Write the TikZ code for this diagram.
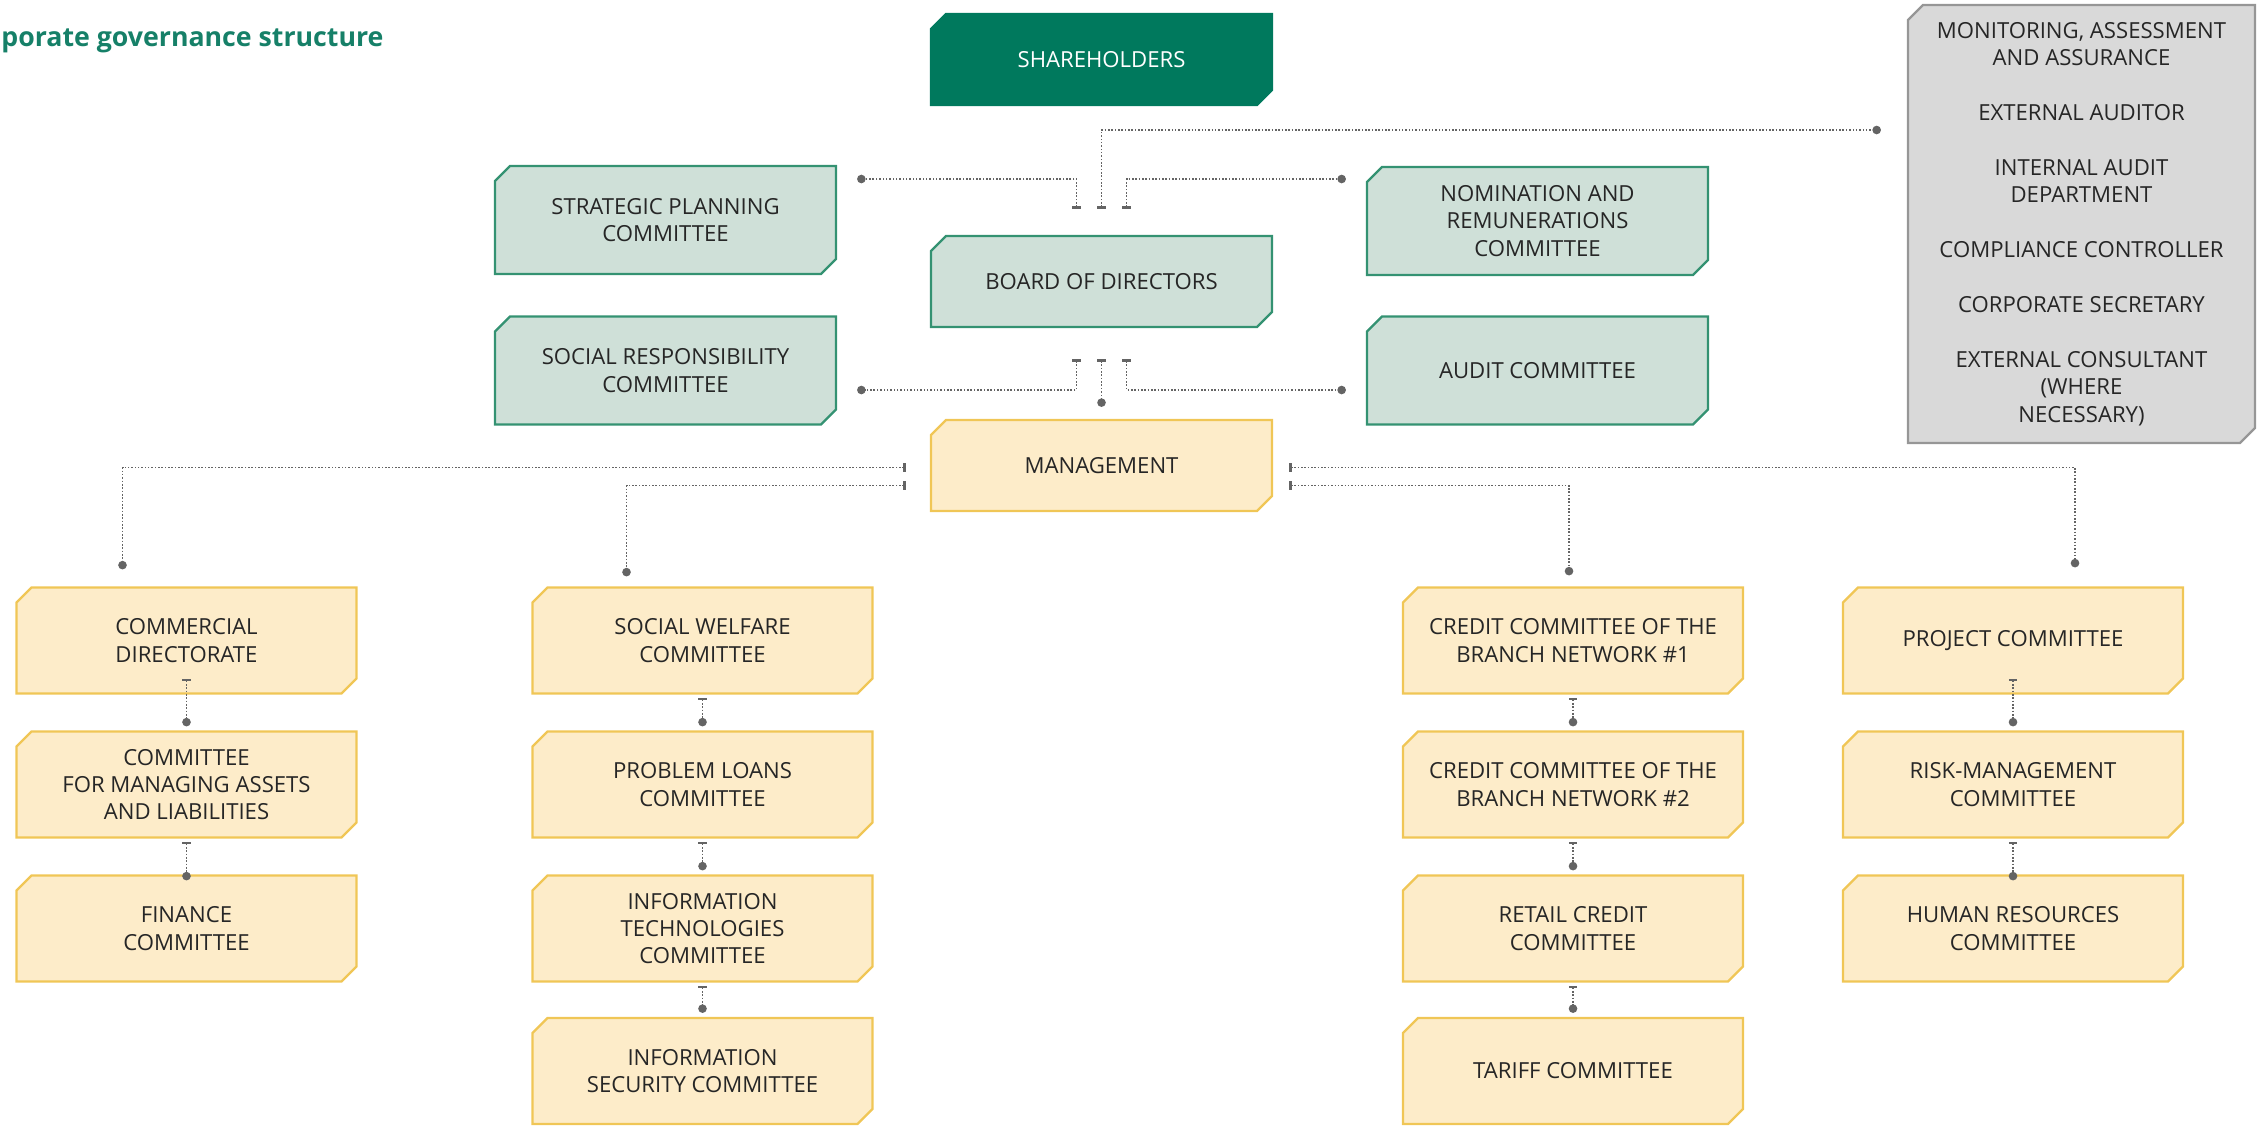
\documentclass[tikz,border=0pt]{standalone}
\usepackage{fontspec}
\setmainfont{Open Sans}
\usetikzlibrary{arrows.meta,calc,shapes.misc}
\definecolor{ShareClr}{RGB}{0,121,93}
\definecolor{BoardClr}{RGB}{207,224,216}
\definecolor{BoardEdge}{RGB}{52,146,114}
\definecolor{MgmtClr}{RGB}{253,236,201}
\definecolor{MgmtEdge}{RGB}{240,198,86}
\definecolor{AuditClr}{RGB}{217,217,217}
\definecolor{AuditEdge}{RGB}{150,150,150}
\definecolor{LinkClr}{RGB}{100,100,100}
\definecolor{TextClr}{RGB}{38,38,38}
\definecolor{TitleClr}{RGB}{22,128,104}
\newcommand{\boxfont}{\fontsize{12.6}{15.6}\selectfont}

\begin{document}
\begin{tikzpicture}[x=0.02cm,y=-0.02cm,
  box/.style={chamfered rectangle,chamfered rectangle corners={north west,south east},
    chamfered rectangle sep=0.15cm,minimum width=6.82cm,inner sep=0pt,align=center,
    font=\boxfont,text=TextClr,line width=1.3pt},
  sharebox/.style={box,fill=ShareClr,draw=ShareClr,text=white,minimum height=1.82cm},
  boardbox/.style={box,fill=BoardClr,draw=BoardEdge,minimum height=1.82cm},
  sidebox/.style={box,fill=BoardClr,draw=BoardEdge,minimum height=2.16cm},
  mgmtbox/.style={box,fill=MgmtClr,draw=MgmtEdge,minimum height=1.82cm},
  unitbox/.style={box,fill=MgmtClr,draw=MgmtEdge,minimum width=6.8cm,minimum height=2.12cm},
  auditbox/.style={box,fill=AuditClr,draw=AuditEdge,minimum width=6.94cm,minimum height=8.76cm},
  link/.style={densely dotted,draw=LinkClr,line width=0.9pt,
    {Bar[width=0.17cm,line width=1.5pt]}-{Circle[length=0.17cm]}}]
\useasboundingbox (0,0) rectangle (2257,1127);

% Τίτλος.
\node[anchor=base west,font=\fontsize{15.2}{17}\selectfont\bfseries,text=TitleClr,inner sep=0pt]
  (title) at (1,46) {porate governance structure};

% Κεντρικοί κόμβοι.
\node[sharebox] (share) at (1101.5,59.5) {SHAREHOLDERS};
\node[boardbox] (board) at (1101.5,281.5) {BOARD OF DIRECTORS};
\node[mgmtbox] (mgmt) at (1101.5,465.5) {MANAGEMENT};

\node[sidebox] (strat) at (665.5,220) {STRATEGIC PLANNING\\COMMITTEE};
\node[sidebox] (socresp) at (665.5,370.5) {SOCIAL RESPONSIBILITY\\COMMITTEE};
\node[sidebox] (nomin) at (1537.5,221) {NOMINATION AND\\REMUNERATIONS\\COMMITTEE};
\node[sidebox] (audit) at (1537.5,370.5) {AUDIT COMMITTEE};

\node[auditbox] (monitor) at (2081.5,224) {MONITORING, ASSESSMENT\\AND ASSURANCE\\[15.6pt]
  EXTERNAL AUDITOR\\[15.6pt]INTERNAL AUDIT\\DEPARTMENT\\[15.6pt]
  COMPLIANCE CONTROLLER\\[15.6pt]CORPORATE SECRETARY\\[15.6pt]
  EXTERNAL CONSULTANT\\(WHERE\\NECESSARY)};

% Επιτροπές της διοίκησης.
\node[unitbox] (commdir) at (186.5,640.5) {COMMERCIAL\\DIRECTORATE};
\node[unitbox] (assets) at (186.5,784.5) {COMMITTEE\\FOR MANAGING ASSETS\\AND LIABILITIES};
\node[unitbox] (finance) at (186.5,928.5) {FINANCE\\COMMITTEE};

\node[unitbox] (welfare) at (702.5,640.5) {SOCIAL WELFARE\\COMMITTEE};
\node[unitbox] (loans) at (702.5,784.5) {PROBLEM LOANS\\COMMITTEE};
\node[unitbox] (itcom) at (702.5,928.5) {INFORMATION\\TECHNOLOGIES\\COMMITTEE};
\node[unitbox] (infosec) at (702.5,1071) {INFORMATION\\SECURITY COMMITTEE};

\node[unitbox] (credit1) at (1573,640.5) {CREDIT COMMITTEE OF THE\\BRANCH NETWORK \#1};
\node[unitbox] (credit2) at (1573,784.5) {CREDIT COMMITTEE OF THE\\BRANCH NETWORK \#2};
\node[unitbox] (retail) at (1573,928.5) {RETAIL CREDIT\\COMMITTEE};
\node[unitbox] (tariff) at (1573,1071) {TARIFF COMMITTEE};

\node[unitbox] (project) at (2013,640.5) {PROJECT COMMITTEE};
\node[unitbox] (risk) at (2013,784.5) {RISK-MANAGEMENT\\COMMITTEE};
\node[unitbox] (hr) at (2013,928.5) {HUMAN RESOURCES\\COMMITTEE};

% Συνδέσεις με το συμβούλιο.
\draw[link] ($(board.north)+(-25,-26)$) |- ($(strat.east)+(20,-41)$);
\draw[link] ($(board.north)+(0,-26)$) |- ($(monitor.west)+(-26,-94)$);
\draw[link] ($(board.north)+(25,-26)$) |- ($(nomin.west)+(-20,-42)$);
\draw[link] ($(board.south)+(-25,31)$) |- ($(socresp.east)+(20,19.5)$);
\draw[link] ($(board.south)+(0,31)$) -- ($(mgmt.north)+(0,-12)$);
\draw[link] ($(board.south)+(25,31)$) |- ($(audit.west)+(-20,19.5)$);

% Συνδέσεις με τη διοίκηση.
\draw[link] ($(mgmt.west)+(-24,2)$) -| ($(commdir.north)+(-64,-17)$);
\draw[link] ($(mgmt.west)+(-24,20)$) -| ($(welfare.north)+(-76,-10)$);
\draw[link] ($(mgmt.east)+(16,2)$) -| ($(project.north)+(62,-19)$);
\draw[link] ($(mgmt.east)+(16,20)$) -| ($(credit1.north)+(-4,-11)$);

\draw[link] ($(commdir.south)+(0,-16)$) -- ($(assets.north)+(0,-4)$);
\draw[link] ($(assets.south)+(0,3)$) -- ($(finance.north)+(0,6)$);
\draw[link] ($(welfare.south)+(0,3)$) -- ($(loans.north)+(0,-4)$);
\draw[link] ($(loans.south)+(0,3)$) -- ($(itcom.north)+(0,-4)$);
\draw[link] ($(itcom.south)+(0,3)$) -- ($(infosec.north)+(0,-4)$);
\draw[link] ($(credit1.south)+(0,3)$) -- ($(credit2.north)+(0,-4)$);
\draw[link] ($(credit2.south)+(0,3)$) -- ($(retail.north)+(0,-4)$);
\draw[link] ($(retail.south)+(0,3)$) -- ($(tariff.north)+(0,-4)$);
\draw[link] ($(project.south)+(0,-16)$) -- ($(risk.north)+(0,-4)$);
\draw[link] ($(risk.south)+(0,3)$) -- ($(hr.north)+(0,6)$);

\end{tikzpicture}
\end{document}
